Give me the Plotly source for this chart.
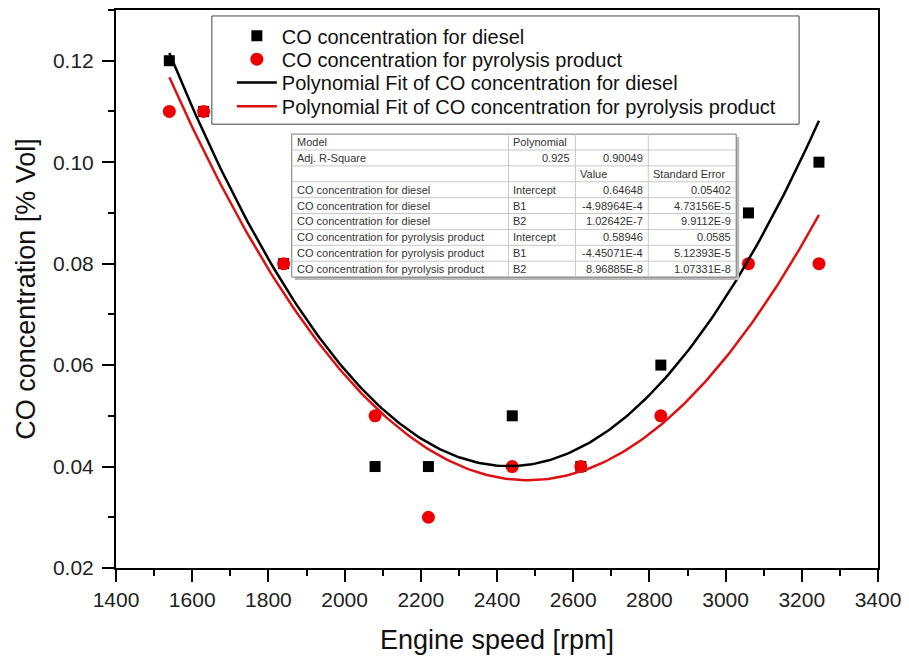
import numpy as np
import plotly.graph_objects as go

# ---- data ----
speed = [1540, 1630, 1840, 2080, 2220, 2440, 2620, 2830, 3060, 3245]
co_diesel = [0.12, 0.11, 0.08, 0.04, 0.04, 0.05, 0.04, 0.06, 0.09, 0.10]
co_pyro = [0.11, 0.11, 0.08, 0.05, 0.03, 0.04, 0.04, 0.05, 0.08, 0.08]

# fitted polynomial coefficients (Intercept, B1, B2) as given in the table
coef_diesel = [0.64648, -4.98964e-4, 1.02642e-7]
coef_pyro = [0.58946, -4.45071e-4, 8.96885e-8]

# table contents
tbl_col0 = ["Model", "Adj. R-Square", "",
            "CO concentration for diesel", "CO concentration for diesel", "CO concentration for diesel",
            "CO concentration for pyrolysis product", "CO concentration for pyrolysis product",
            "CO concentration for pyrolysis product"]
tbl_col1 = ["Polynomial", "0.925", "", "Intercept", "B1", "B2", "Intercept", "B1", "B2"]
tbl_col2 = ["", "0.90049", "Value", "0.64648", "-4.98964E-4", "1.02642E-7",
            "0.58946", "-4.45071E-4", "8.96885E-8"]
tbl_col3 = ["", "", "Standard Error", "0.05402", "4.73156E-5", "9.9112E-9",
            "0.0585", "5.12393E-5", "1.07331E-8"]

# ---- layout geometry (pixels) ----
W, H = 909, 658
L, R, T, B = 116, 30, 8, 88
PW, PH = W - L - R, H - T - B


def px(x):
    return (x - L) / PW


def py(y):
    return (H - B - y) / PH


FONT = "Liberation Sans, Arial, sans-serif"

xs = np.linspace(min(speed), max(speed), 200)
fit_d = coef_diesel[0] + coef_diesel[1] * xs + coef_diesel[2] * xs ** 2
fit_p = coef_pyro[0] + coef_pyro[1] * xs + coef_pyro[2] * xs ** 2

fig = go.Figure()
fig.add_trace(go.Scatter(x=speed, y=co_diesel, mode="markers", name="CO concentration for diesel",
                         marker=dict(symbol="square", size=11, color="black"), legend="legend"))
fig.add_trace(go.Scatter(x=speed, y=co_pyro, mode="markers", name="CO concentration for pyrolysis product",
                         marker=dict(symbol="circle", size=13, color="#ee0000"), legend="legend2"))
fig.add_trace(go.Scatter(x=xs, y=fit_d, mode="lines", name="Polynomial Fit of CO concentration for diesel",
                         line=dict(color="black", width=2.5), legend="legend3"))
fig.add_trace(go.Scatter(x=xs, y=fit_p, mode="lines",
                         name="Polynomial Fit of CO concentration for pyrolysis product",
                         line=dict(color="#dd1111", width=2.5), legend="legend4"))

shapes = []
annotations = []

# legend border
shapes.append(dict(type="rect", xref="paper", yref="paper", x0=px(212), x1=px(800), y0=py(14), y1=py(123),
                   line=dict(color="#444", width=1), fillcolor="rgba(0,0,0,0)", layer="above"))

# table
tx0, tx1 = 292, 737
ty0, ty1 = 133, 277
cols = [292, 509, 576, 649, 737]
nrows = len(tbl_col0)
rh = (ty1 - ty0) / nrows
# shadow
shapes.append(dict(type="rect", xref="paper", yref="paper", x0=px(tx0 + 3), x1=px(tx1 + 3),
                   y0=py(ty0 + 3), y1=py(ty1 + 3), line=dict(width=0), fillcolor="#b8b8b8", layer="above"))
shapes.append(dict(type="rect", xref="paper", yref="paper", x0=px(tx0), x1=px(tx1),
                   y0=py(ty0), y1=py(ty1), line=dict(color="#777", width=1), fillcolor="white", layer="above"))
for i in range(1, nrows):
    yy = ty0 + i * rh
    shapes.append(dict(type="line", xref="paper", yref="paper", x0=px(tx0), x1=px(tx1), y0=py(yy), y1=py(yy),
                       line=dict(color="#c8c8c8", width=1), layer="above"))
for c in cols[1:-1]:
    shapes.append(dict(type="line", xref="paper", yref="paper", x0=px(c), x1=px(c), y0=py(ty0), y1=py(ty1),
                       line=dict(color="#c8c8c8", width=1), layer="above"))

columns = [tbl_col0, tbl_col1, tbl_col2, tbl_col3]
for r in range(nrows):
    yc = ty0 + (r + 0.5) * rh
    for c, col in enumerate(columns):
        txt = col[r]
        if not txt:
            continue
        right = (c >= 1 and r == 1) or (c >= 2 and r >= 3)
        if right:
            annotations.append(dict(text=txt, xref="paper", yref="paper", x=px(cols[c + 1] - 3), y=py(yc),
                                    xanchor="right", yanchor="middle", showarrow=False,
                                    font=dict(family=FONT, size=11, color="#333")))
        else:
            annotations.append(dict(text=txt, xref="paper", yref="paper", x=px(cols[c] + 3), y=py(yc),
                                    xanchor="left", yanchor="middle", showarrow=False,
                                    font=dict(family=FONT, size=11, color="#333")))


def leg(yc):
    return dict(x=px(232), y=py(yc), xanchor="left", yanchor="middle", bgcolor="rgba(0,0,0,0)",
                borderwidth=0, font=dict(family=FONT, size=20, color="#111"), itemwidth=40)


fig.update_layout(
    width=W, height=H,
    margin=dict(l=L, r=R, t=T, b=B),
    paper_bgcolor="white", plot_bgcolor="white",
    font=dict(family=FONT, color="#222"),
    showlegend=True,
    legend=leg(34), legend2=leg(57.5), legend3=leg(81), legend4=leg(105),
    shapes=shapes,
    annotations=annotations,
    xaxis=dict(range=[1400, 3400], dtick=200, tick0=1400, showgrid=False, zeroline=False,
               showline=True, linecolor="black", linewidth=2, mirror=True,
               ticks="outside", ticklen=12, tickwidth=1.5, tickcolor="black",
               minor=dict(ticks="outside", ticklen=6, tickwidth=1.5, dtick=100, tickcolor="black",
                          showgrid=False),
               tickfont=dict(family=FONT, size=21, color="#222"),
               title=dict(text="Engine speed [rpm]", font=dict(family=FONT, size=27, color="#111"),
                          standoff=20)),
    yaxis=dict(range=[0.02, 0.13], dtick=0.02, tick0=0.02, tickformat=".2f", showgrid=False, zeroline=False,
               showline=True, linecolor="black", linewidth=2, mirror=True,
               ticks="outside", ticklen=12, tickwidth=1.5, tickcolor="black",
               minor=dict(ticks="outside", ticklen=6, tickwidth=1.5, dtick=0.01, tickcolor="black",
                          showgrid=False),
               ticklabelstandoff=4,
               tickfont=dict(family=FONT, size=21, color="#222"),
               title=dict(text="CO concentration [% Vol]", font=dict(family=FONT, size=27, color="#111"),
                          standoff=9)),
)

fig.write_html("out.html", config={"displayModeBar": False},
               post_script="document.body.style.margin='0px';")
